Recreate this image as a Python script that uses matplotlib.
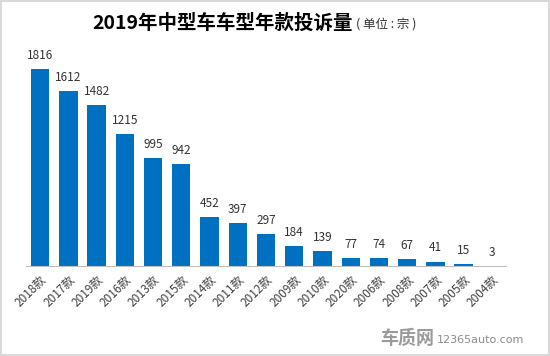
import matplotlib
matplotlib.use("Agg")
import matplotlib.pyplot as plt
from matplotlib.patches import Rectangle

plt.rcParams["font.family"] = ["Noto Sans CJK SC", "DejaVu Sans"]

years = ["2018款", "2017款", "2019款", "2016款", "2013款", "2015款", "2014款",
         "2011款", "2012款", "2009款", "2010款", "2020款", "2006款", "2008款",
         "2007款", "2005款", "2004款"]
counts = [1816, 1612, 1482, 1215, 995, 942, 452, 397, 297, 184, 139, 77, 74,
          67, 41, 15, 3]

W, H = 550, 356
fig = plt.figure(figsize=(W / 100, H / 100), dpi=100)
fig.patch.set_facecolor("white")

# plot area in pixel terms: x 26..506, baseline y=266, 2000 -> 217 px
ax = fig.add_axes([26 / W, 1 - 266 / H, 480 / W, 217 / H])
x = list(range(len(years)))
ax.bar(x, counts, width=0.65, color="#0070C0")
for xi, v in zip(x, counts):
    ax.text(xi, v + 65, str(v), ha="center", va="bottom", fontsize=8.5,
            color="#333333")
ax.set_xlim(-0.5, len(years) - 0.5)
ax.set_ylim(0, 2000)
ax.set_yticks([])
ax.set_xticks(x)
ax.set_xticklabels(years, rotation=45, ha="right", rotation_mode="anchor",
                   fontsize=8.5, color="#404040")
ax.tick_params(axis="x", length=0, pad=5)
for s in ["top", "right", "left"]:
    ax.spines[s].set_visible(False)
ax.spines["bottom"].set_color("#BFBFBF")
ax.spines["bottom"].set_linewidth(0.8)

fig.text(353 / W, 1 - 23 / H, "2019年中型车车型年款投诉量", ha="right",
         va="center", fontsize=14, fontweight="bold", color="#000000")
fig.text(356 / W, 1 - 24 / H, "( 单位 : 宗 )", ha="left", va="center",
         fontsize=9, color="#333333")

# watermark
fig.text(434 / W, 1 - 338 / H, "车质网", ha="right", va="center",
         fontsize=13, fontweight="bold", color="#9A9A9A")
fig.text(437 / W, 1 - 340 / H, "12365auto.com", ha="left", va="center",
         fontsize=8, color="#8C8C8C", family="DejaVu Sans")

# light frame
fig.patches.append(Rectangle((0.002, 0.003), 0.996, 0.994,
                             transform=fig.transFigure, fill=False,
                             edgecolor="#D9D9D9", linewidth=1.5))

fig.savefig("out.png", dpi=100)
